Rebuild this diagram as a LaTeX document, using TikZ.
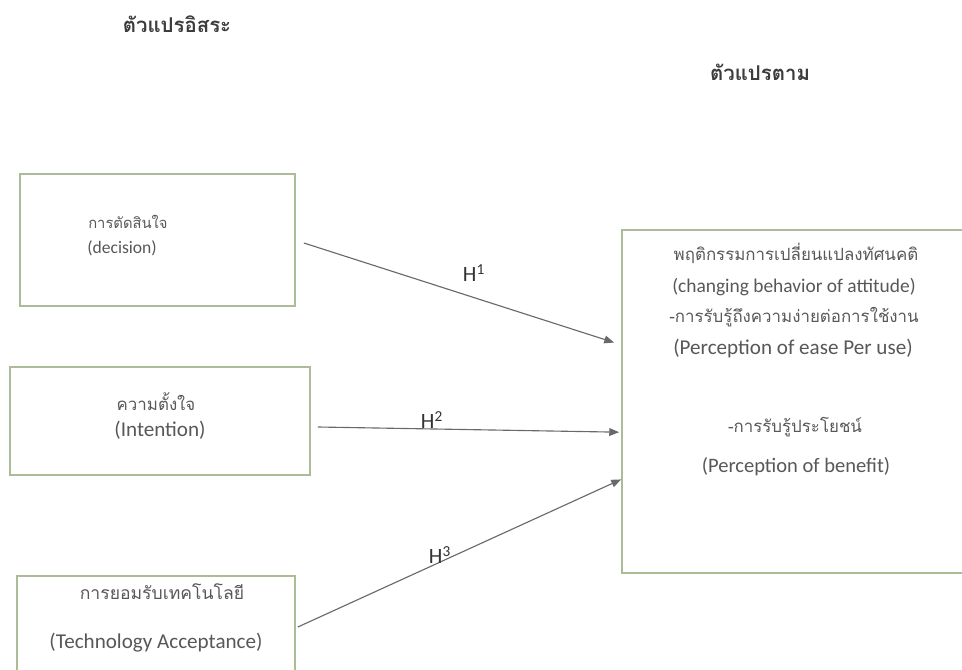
\documentclass[tikz,border=0pt]{standalone}
\usepackage{fontspec}
\setmainfont{Carlito}
\newfontfamily\thaifont[Script=Thai]{Loma}
\usetikzlibrary{calc,arrows.meta}

\definecolor{boxline}{RGB}{172,188,150}
\definecolor{txtgray}{RGB}{88,88,88}
\definecolor{headgray}{RGB}{60,60,60}
\definecolor{arrgray}{RGB}{105,105,105}

\tikzset{
  varbox/.style={draw=boxline, line width=1.2pt, inner sep=0pt},
  txt/.style={text=txtgray, inner sep=0pt, font=\fontsize{15}{17}\selectfont},
  thtxt/.style={text=txtgray, inner sep=0pt, font=\thaifont\fontsize{12}{15}\selectfont},
  head/.style={text=headgray, inner sep=0pt, font=\thaifont\fontsize{14.5}{17}\selectfont\bfseries},
  hlabel/.style={text=black!80, inner sep=0pt, font=\fontsize{15.5}{17}\selectfont},
  link/.style={->, draw=arrgray, line width=0.8pt}
}

\begin{document}
\begin{tikzpicture}[x=0.025cm, y=-0.025cm, >={Triangle[length=7pt,width=5.5pt]}]
        \useasboundingbox (0,0) rectangle (962,670);
        \fill[white] (0,0) rectangle (962,670);

        % headings
        \node[head](indep) at (177,24) {ตัวแปรอิสระ};
        \node[head](dep) at (760,72) {ตัวแปรตาม};

        % boxes
        \node[varbox, minimum width=6.875cm, minimum height=3.3cm](dec) at (157.5,240) {};
        \node[varbox, minimum width=7.5cm, minimum height=2.7cm](int) at (160,421) {};
        \node[varbox, minimum width=6.95cm, minimum height=2.55cm](tech) at (156,627) {};
        \node[varbox, minimum width=8.7cm, minimum height=8.575cm](beh) at (796,401.5) {};

        % box texts
        \node[thtxt, anchor=west, font=\thaifont\fontsize{10.5}{13}\selectfont](decth) at (88,222) {การตัดสินใจ};
        \node[txt, anchor=west, font=\fontsize{12.5}{15}\selectfont](decen) at (87,248) {(decision)};
        \node[thtxt](intth) at (156,402) {ความตั้งใจ};
        \node[txt](inten) at (160,430) {(Intention)};
        \node[thtxt, font=\thaifont\fontsize{12.5}{15}\selectfont](techth) at (162,592) {การยอมรับเทคโนโลยี};
        \node[txt](techen) at (156,643) {(Technology Acceptance)};

        \node[thtxt](behth) at (796,253) {พฤติกรรมการเปลี่ยนแปลงทัศนคติ};
        \node[txt, font=\fontsize{13.8}{16}\selectfont](behen) at (794,287) {(changing behavior of attitude)};
        \node[thtxt](easeth) at (794,317) {-การรับรู้ถึงความง่ายต่อการใช้งาน};
        \node[txt](easeen) at (793,348) {(Perception of ease Per use)};
        \node[thtxt](benth) at (795,427) {-การรับรู้ประโยชน์};
        \node[txt, font=\fontsize{14.6}{17}\selectfont](benen) at (796,467) {(Perception of benefit)};

        % hypotheses
        \draw[link] ($(dec.east)+(8,3)$) -- ($(beh.north west)!.329!(beh.south west)+(-7,0)$);
        \draw[link] ($(int.east)+(7,6)$) -- ($(beh.north west)!.589!(beh.south west)+(-2,0)$);
        \draw[link] ($(tech.east)+(2,0)$) -- ($(beh.north west)!.726!(beh.south west)$);

        \node[hlabel](h1) at (474,273) {H\textsuperscript{1}};
        \node[hlabel](h2) at (432,420) {H\textsuperscript{2}};
        \node[hlabel](h3) at (440,555) {H\textsuperscript{3}};
    \end{tikzpicture}
\end{document}
